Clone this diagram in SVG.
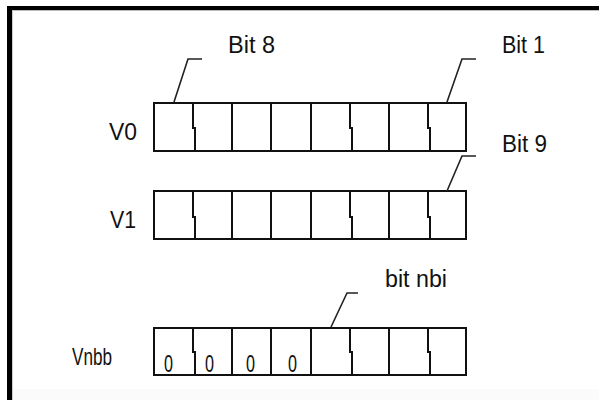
<svg xmlns="http://www.w3.org/2000/svg" width="599" height="400" viewBox="0 0 599 400">
<style>
.cell{fill:none;stroke:#111;stroke-width:2}
.div{fill:none;stroke:#111;stroke-width:2}
.lead{fill:none;stroke:#222;stroke-width:1.6}
.lbl{font-family:"Liberation Sans",Arial,sans-serif;font-size:23px;fill:#111}
.big{font-size:24px}
.zero{font-family:"Liberation Sans",Arial,sans-serif;font-size:24px;fill:#111}
</style>
<rect x="0" y="0" width="599" height="400" fill="#fff"/>
<g id="frame">
<rect x="7" y="6" width="592" height="4" fill="#000"/>
<rect x="7" y="6" width="5" height="394" fill="#000"/>
<line x1="12.5" y1="11" x2="12.5" y2="400" stroke="#ccc" stroke-width="1"/>
<line x1="12" y1="10.5" x2="599" y2="10.5" stroke="#bbb" stroke-width="1"/>
<rect x="13" y="389" width="586" height="11" fill="#fbfbfb"/>
</g>
<g id="row-V0">
<rect class="cell" x="154" y="103" width="312" height="48"/>
<path class="div" d="M193 103V128H195V151M232 103V151M271 103V151M311 103V151M350 103V128H352V151M389 103V151M428 103V128H430V151"/>
<text class="lbl big" x="109" y="140" textLength="28" lengthAdjust="spacingAndGlyphs">V0</text>
</g>
<g id="row-V1">
<rect class="cell" x="154" y="191" width="312" height="48"/>
<path class="div" d="M193 191V217H195V239M232 191V239M271 191V239M311 191V239M350 191V217H352V239M389 191V239M428 191V217H430V239"/>
<text class="lbl big" x="110" y="228" textLength="26" lengthAdjust="spacingAndGlyphs">V1</text>
</g>
<g id="row-Vnbb">
<rect class="cell" x="154" y="328" width="312" height="47"/>
<path class="div" d="M193 328V352H195V375M232 328V375M271 328V375M311 328V375M350 328V352H352V375M389 328V375M428 328V352H430V375"/>
<text class="lbl big" x="72" y="365" textLength="40" lengthAdjust="spacingAndGlyphs">Vnbb</text>
<text class="zero" x="164" y="372" textLength="9" lengthAdjust="spacingAndGlyphs">0</text>
<text class="zero" x="205" y="372" textLength="9" lengthAdjust="spacingAndGlyphs">0</text>
<text class="zero" x="246" y="372" textLength="9" lengthAdjust="spacingAndGlyphs">0</text>
<text class="zero" x="288" y="372" textLength="9" lengthAdjust="spacingAndGlyphs">0</text>
</g>
<g id="label-bit8"><text class="lbl" x="228" y="53" textLength="47" lengthAdjust="spacingAndGlyphs">Bit 8</text></g>
<g id="label-bit1"><text class="lbl" x="502" y="53" textLength="43" lengthAdjust="spacingAndGlyphs">Bit 1</text></g>
<g id="label-bit9"><text class="lbl" x="502" y="152" textLength="45" lengthAdjust="spacingAndGlyphs">Bit 9</text></g>
<g id="label-bitnbi"><text class="lbl" x="385" y="287" textLength="62" lengthAdjust="spacingAndGlyphs">bit nbi</text></g>
<g id="connectors">
<path class="lead" d="M174 102L188 59H202"/>
<path class="lead" d="M447 102L462 59H476"/>
<path class="lead" d="M447 191L462 156H476"/>
<path class="lead" d="M331 327L347 293H358"/>
</g>
</svg>
